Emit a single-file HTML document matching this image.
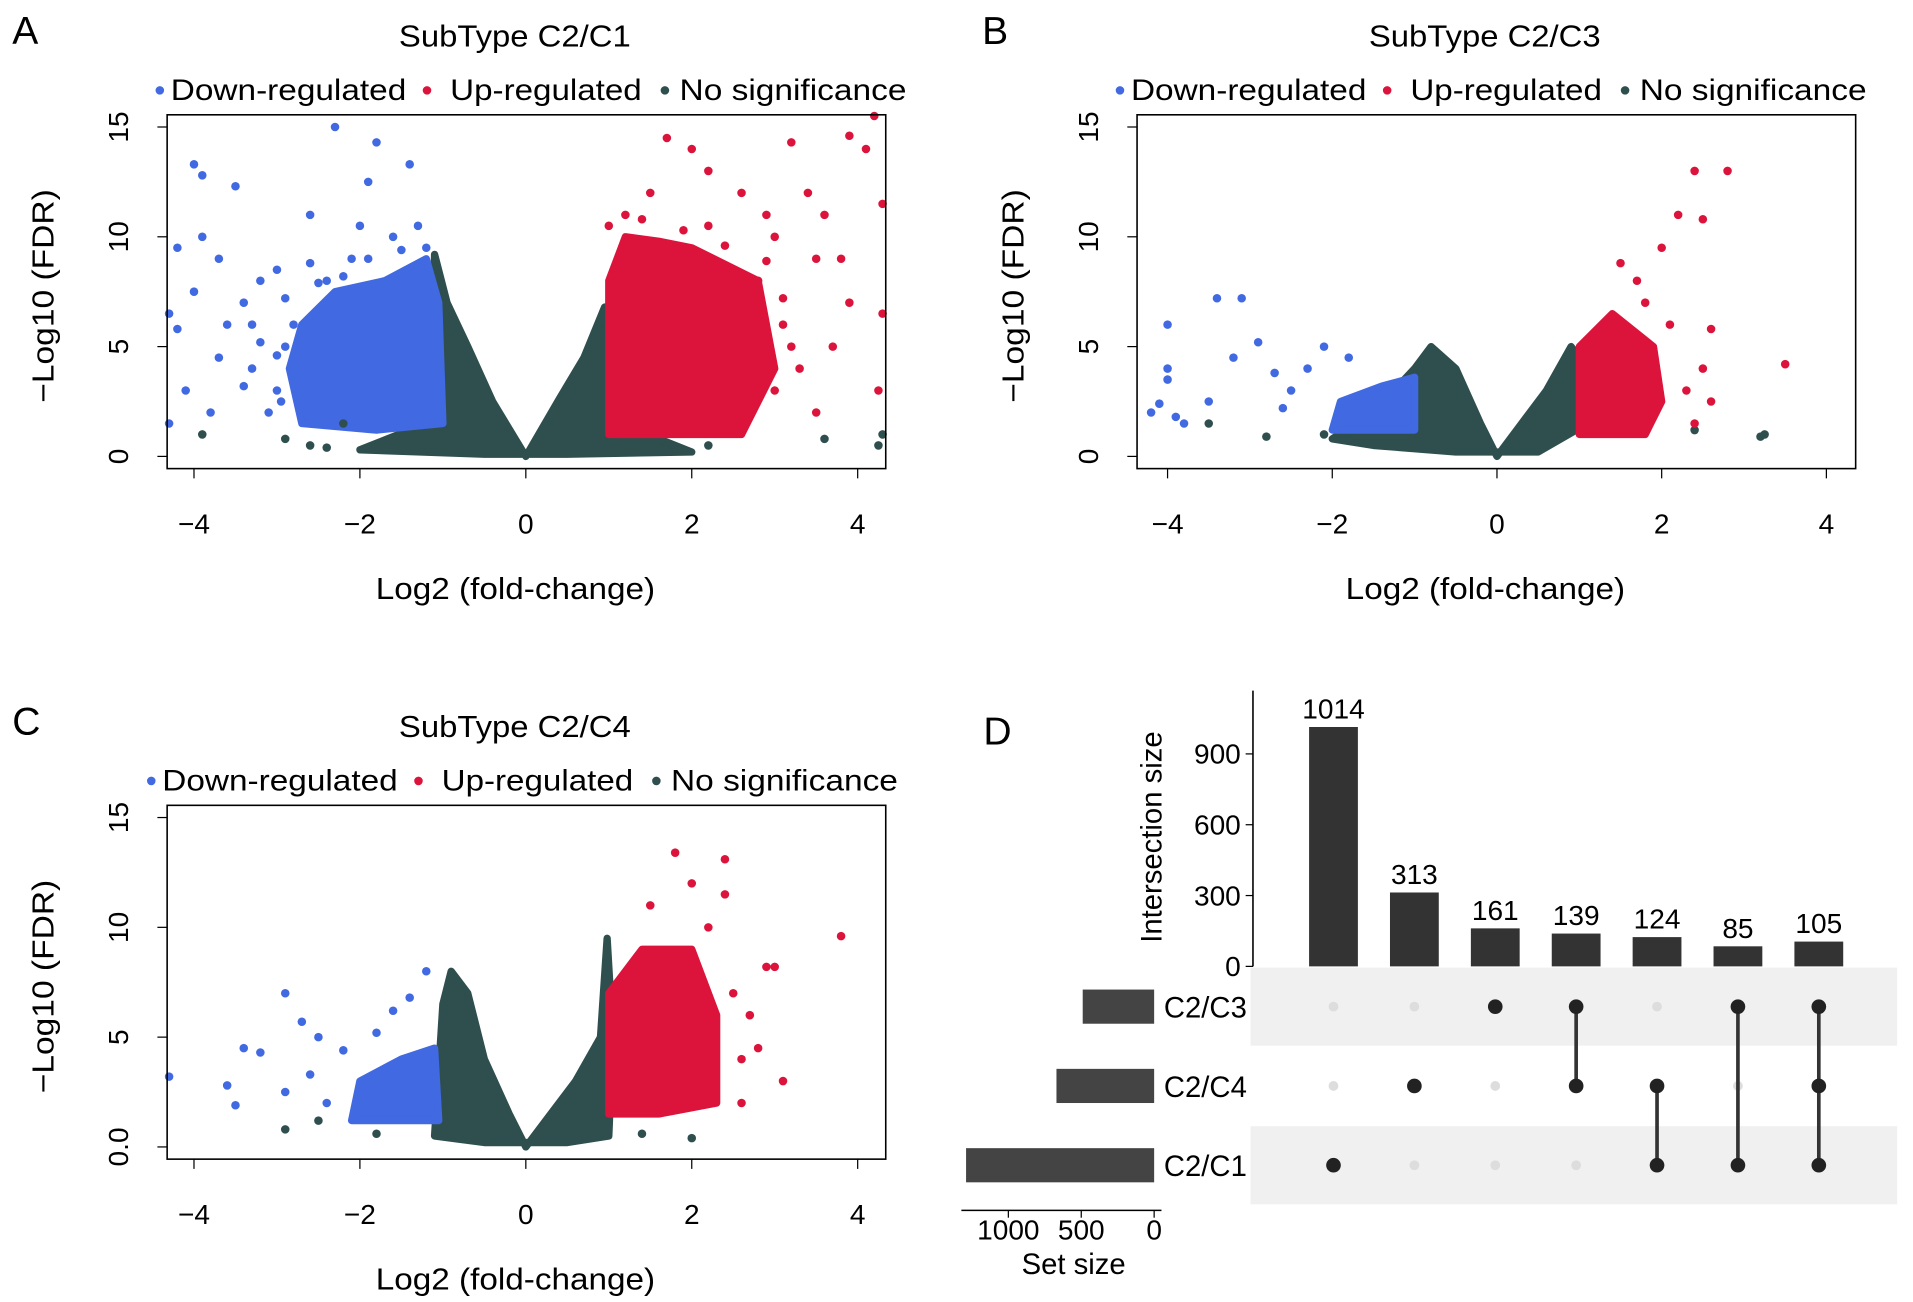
<!DOCTYPE html>
<html><head><meta charset="utf-8"><style>
html,body{margin:0;padding:0;background:#fff}
svg{display:block;font-family:"Liberation Sans",sans-serif}
</style></head><body>
<svg id="fig" width="1913" height="1302" viewBox="0 0 1568 1067" xmlns="http://www.w3.org/2000/svg"></svg>
<script>
// ---------- DATA ----------
const xTicks = [-4, -2, 0, 2, 4];
const yTicksAB = [0, 5, 10, 15];
const yTickLabelsAB = ["0", "5", "10", "15"];
const yTickLabelsC = ["0.0", "5", "10", "15"];
// Panel A
const aGreenShape = [[-2.0,0.3],[-1.4,1.2],[-1.15,2],[-1.1,9.2],[-0.95,7],[-0.7,5],[-0.4,2.5],[0,0],[0.4,2.6],[0.7,4.5],[0.95,6.8],[1.0,5],[1.05,1.5],[1.6,0.8],[2.0,0.2],[0.5,0.1],[-0.5,0.1]];
const aBlueShape = [[-2.7,1.5],[-2.85,4],[-2.7,6],[-2.3,7.5],[-1.7,8],[-1.2,9],[-1.05,7],[-1.0,1.5],[-1.8,1.2]];
const aRedShape = [[1.0,1.0],[1.0,8],[1.2,10],[1.6,9.8],[2.0,9.5],[2.8,8],[3.0,4],[2.6,1.0],[1.8,1.0]];
const aBlue = [[-4.3,6.5],[-4.2,5.8],[-4,13.3],[-3.9,12.8],[-3.5,12.3],[-3.7,9],[-3.2,8],[-2.3,15],[-1.8,14.3],[-1.9,12.5],[-1.4,13.3],[-2.6,11],[-3,8.5],[-4.1,3],[-3.8,2],[-3.3,4],[-2.8,6],[-2.1,9],[-1.2,9.5],[-4.3,1.5],[-3.6,6],[-3,3],[-2.4,8],[-3.9,10],[-4.2,9.5],[-3.4,7],[-2.9,5],[-3.7,4.5],[-4.0,7.5],[-3.1,2],[-2.0,10.5],[-1.6,10],[-3.3,6],[-3.2,5.2],[-2.9,7.2],[-2.6,8.8],[-2.2,8.2],[-1.9,9],[-1.5,9.4],[-3.4,3.2],[-3.0,4.6],[-2.95,2.5],[-2.5,7.9],[-1.3,10.5]];
const aRed = [[1.2,11],[1.7,14.5],[2,14],[2.2,13],[3.2,14.3],[3.9,14.6],[4.1,14],[4.2,15.5],[4.3,11.5],[4.3,6.5],[4.25,3],[3.5,9],[3,10],[2.6,12],[2.8,8],[3.7,5],[3.3,4],[2.4,3],[1.5,12],[2.5,6],[3.6,11],[1.0,10.5],[3.9,7],[3.4,12],[2.9,11],[2.2,10.5],[3.1,6],[3.8,9],[2.7,2.5],[3.5,2],[1.4,10.8],[1.9,10.3],[2.4,9.6],[2.9,8.9],[3.1,7.2],[3.2,5],[3.0,3]];
const aGreen = [[-3.9,1],[-2.6,0.5],[-2.2,1.5],[3.6,0.8],[4.3,1],[4.25,0.5],[2.2,0.5],[-2.9,0.8],[-2.4,0.4],[1.6,0.4]];
// Panel B
const bGreenShape = [[-2.0,0.8],[-1.5,2],[-1.0,4],[-0.8,5],[-0.5,4],[-0.2,1.5],[0,0],[0.3,1.5],[0.6,3],[0.9,5],[1.0,4.5],[1.1,1.5],[0.5,0.2],[-0.5,0.2],[-1.5,0.5]];
const bBlueShape = [[-2.0,1.2],[-1.9,2.5],[-1.4,3.2],[-1.0,3.6],[-1.0,1.2]];
const bRedShape = [[1.0,1.0],[1.0,5],[1.4,6.5],[1.9,5],[2.0,2.5],[1.8,1.0]];
const bBlue = [[-4.1,2.4],[-4,6],[-4,4],[-4,3.5],[-3.4,7.2],[-3.1,7.2],[-3.5,2.5],[-3.2,4.5],[-2.9,5.2],[-2.5,3],[-2.1,5],[-1.8,4.5],[-3.8,1.5],[-4.2,2],[-2.7,3.8],[-2.3,4],[-2.6,2.2],[-3.9,1.8]];
const bRed = [[2.8,13],[2.4,13],[2.5,10.8],[2.2,11],[2,9.5],[1.5,8.8],[3.5,4.2],[2.6,5.8],[2.6,2.5],[2.4,1.5],[1.8,7],[2.3,3],[2.1,6],[1.7,8],[2.5,4]];
const bGreen = [[3.2,0.9],[2.4,1.2],[-3.5,1.5],[-2.1,1],[3.25,1.0],[-2.8,0.9]];
// Panel C
const cGreenShape = [[-1.1,0.5],[-1.0,6.5],[-0.9,8],[-0.7,7],[-0.5,4],[-0.2,1.5],[0,0],[0.3,1.5],[0.6,3],[0.9,5],[0.98,9.5],[1.05,5],[1.0,0.5],[0.5,0.2],[-0.5,0.2]];
const cBlueShape = [[-2.1,1.2],[-2.0,3],[-1.5,4],[-1.1,4.5],[-1.05,1.2]];
const cRedShape = [[1.0,1.5],[1.0,7],[1.4,9],[2.0,9],[2.3,6],[2.3,2],[1.6,1.5]];
const cBlue = [[-4.3,3.2],[-2.9,7],[-2.7,5.7],[-2.5,5],[-1.8,5.2],[-1.4,6.8],[-1.2,8],[-1.6,6.2],[-3.6,2.8],[-3.4,4.5],[-3.2,4.3],[-3.5,1.9],[-2.2,4.4],[-2.6,3.3],[-2.9,2.5],[-2.4,2]];
const cRed = [[1.8,13.4],[2.4,13.1],[2.4,11.5],[2,12],[1.5,11],[3.8,9.6],[3,8.2],[2.9,8.2],[2.7,6],[3.1,3],[2.6,4],[2.2,10],[2.6,2],[1.2,2],[2.8,4.5],[2.5,7]];
const cGreen = [[-2.9,0.8],[-2.5,1.2],[-1.8,0.6],[1.4,0.6],[2.0,0.4]];
// Panel D
const interSizes = [1014, 313, 161, 139, 124, 85, 105];
const interLabels = ["1014","313","161","139","124","85","105"];
const sets = ["C2/C3","C2/C4","C2/C1"];
const setSizes = [490, 670, 1290];
const memberships = [[2],[1],[0],[0,1],[1,2],[0,2],[0,1,2]];
const interTicks = [0,300,600,900];
const setTicks = [1000,500,0];

// ---------- DRAW ----------
const NS="http://www.w3.org/2000/svg", svg=document.getElementById('fig');
function el(tag,attrs,parent){const e=document.createElementNS(NS,tag);for(const k in attrs)e.setAttribute(k,attrs[k]);(parent||svg).appendChild(e);return e;}
function txt(s,attrs,parent){const e=el('text',attrs,parent);e.textContent=s;return e;}
const BLUE="#4169e1", RED="#dc143c", GREEN="#2f4f4f";

function volcano(p){
  const g=el('g',{});
  
  
  const sx=v=>p.x0+v*p.kx, sy=v=>p.y0-v*p.ky;
  const poly=(pts,c,nm)=>{const e=el('polygon',{points:pts.map(d=>sx(d[0])+','+sy(d[1])).join(' '),fill:c,stroke:c,'stroke-width':6,'stroke-linejoin':'round'},g);
    };
  const dots=(pts,c,nm)=>pts.forEach(d=>{const e=el('circle',{cx:sx(d[0]),cy:sy(d[1]),r:3.5,fill:c},g);
    });
  poly(p.gs,GREEN,'no-significance-cloud');poly(p.bs,BLUE,'down-regulated-cloud');poly(p.rs,RED,'up-regulated-cloud');
  dots(p.g,GREEN,'no-significance-point');dots(p.b,BLUE,'down-regulated-point');dots(p.r,RED,'up-regulated-point');
  const ox=p.ox;
  const fr=el('rect',{x:137+ox,y:p.top,width:589,height:290,fill:'none',stroke:'#000','stroke-width':1.3},g);
  
  xTicks.forEach(t=>{el('line',{x1:sx(t),x2:sx(t),y1:p.top+290,y2:p.top+298,stroke:'#000'},g);
    const e=txt(t<0?'\u2212'+(-t):String(t),{x:sx(t),y:p.top+343,'text-anchor':'middle','font-size':23},g);
    });
  yTicksAB.forEach((t,i)=>{el('line',{x1:129+ox,x2:137+ox,y1:sy(t),y2:sy(t),stroke:'#000'},g);
    const e=txt(p.yl[i],{x:105+ox,y:sy(t),'text-anchor':'middle','font-size':23,transform:`rotate(-90 ${105+ox} ${sy(t)})`},g);
    });
  let e=txt('Log2 (fold-change)',{x:308+ox,y:p.top+397,'font-size':25,textLength:229,lengthAdjust:'spacingAndGlyphs'},g);
  
  e=txt('\u2212Log10 (FDR)',{x:44+ox,y:p.top+236,'font-size':25,textLength:175,lengthAdjust:'spacingAndGlyphs',transform:`rotate(-90 ${44+ox} ${p.top+236})`},g);
  
  e=txt(p.title,{x:327+ox,y:p.top-56,'font-size':25,textLength:190,lengthAdjust:'spacingAndGlyphs'},g);
  
  e=txt(p.letter,{x:10+ox,y:p.top-58,'font-size':32},g);
  
  const lg=el('g',{},g);
  const ly=p.top-12;
  [[p.lx,BLUE,'Down-regulated',193,9],[p.lx+219,RED,'Up-regulated',157,19],[p.lx+414,GREEN,'No significance',186,12]].forEach(([x,c,s,w,gap])=>{
    el('circle',{cx:x,cy:ly-8,r:3.5,fill:c},lg);
    const t=txt(s,{x:x+gap,y:ly,'font-size':24,textLength:w,lengthAdjust:'spacingAndGlyphs'},lg);
    });
}
volcano({name:'volcano-c2-c1',letter:'A',title:'SubType C2/C1',top:94,ox:0,x0:431,kx:68,y0:374,ky:18,yl:yTickLabelsAB,lx:131,gs:aGreenShape,bs:aBlueShape,rs:aRedShape,b:aBlue,r:aRed,g:aGreen});
volcano({name:'volcano-c2-c3',letter:'B',title:'SubType C2/C3',top:94,ox:795,x0:1227,kx:67.5,y0:374,ky:18,yl:yTickLabelsAB,lx:918,gs:bGreenShape,bs:bBlueShape,rs:bRedShape,b:bBlue,r:bRed,g:bGreen});
volcano({name:'volcano-c2-c4',letter:'C',title:'SubType C2/C4',top:660,ox:0,x0:431,kx:68,y0:940,ky:18,yl:yTickLabelsC,lx:124,gs:cGreenShape,bs:cBlueShape,rs:cRedShape,b:cBlue,r:cRed,g:cGreen});

// UpSet
(function(){
  const g=el('g',{});
  let e=txt('D',{x:806,y:610,'font-size':32},g);
  const by0=792,bk=0.1935,cx0=1093,dx=66.3,rowY=[825,890,955];
  [0,2].forEach(i=>{const r=el('rect',{x:1025,y:rowY[i]-32,width:530,height:64,fill:'#f0f0f0'},g);
    });
  el('line',{x1:1027,x2:1027,y1:566,y2:792,stroke:'#000','stroke-width':1.3},g);
  interTicks.forEach(t=>{el('line',{x1:1021,x2:1027,y1:by0-t*bk,y2:by0-t*bk,stroke:'#000'},g);
    const e=txt(String(t),{x:1017,y:by0-t*bk+8,'text-anchor':'end','font-size':23},g);});
  e=txt('Intersection size',{x:952,y:686,'text-anchor':'middle','font-size':24,transform:'rotate(-90 952 686)'},g);
  
  interSizes.forEach((v,i)=>{const x=cx0+i*dx;
    const r=el('rect',{x:x-20,y:by0-v*bk,width:40,height:v*bk,fill:'#333'},g);
    
    const t=txt(interLabels[i],{x:x,y:by0-v*bk-7,'text-anchor':'middle','font-size':23},g);
    
    rowY.forEach((y,j)=>{if(!memberships[i].includes(j)){const d=el('circle',{cx:x,cy:y,r:4,fill:'#ddd'},g);
      }});
    const m=memberships[i].map(j=>rowY[j]);
    if(m.length>1){el('line',{x1:x,x2:x,y1:Math.min(...m),y2:Math.max(...m),stroke:'#333','stroke-width':3},g);}
    m.forEach(y=>{const d=el('circle',{cx:x,cy:y,r:6,fill:'#222'},g);});
  });
  const sk=0.1195,sx0=946;
  setSizes.forEach((v,j)=>{const r=el('rect',{x:sx0-v*sk,y:rowY[j]-14,width:v*sk,height:28,fill:'#444'},g);
    
    const t=txt(sets[j],{x:954,y:rowY[j]+9,'font-size':24},g);});
  el('line',{x1:788,x2:952,y1:992,y2:992,stroke:'#000','stroke-width':1.3},g);
  setTicks.forEach(t=>{el('line',{x1:sx0-t*sk,x2:sx0-t*sk,y1:992,y2:998,stroke:'#000'},g);
    const e=txt(String(t),{x:sx0-t*sk,y:1016,'text-anchor':'middle','font-size':23},g);});
  e=txt('Set size',{x:880,y:1044,'text-anchor':'middle','font-size':24},g);
})();
</script>
</body></html>
